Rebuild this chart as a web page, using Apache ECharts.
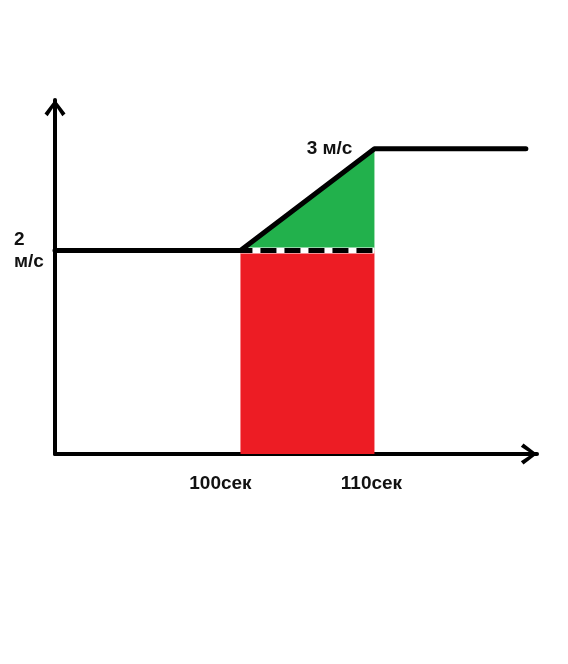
<!DOCTYPE html>
<html>
<head>
<meta charset="utf-8">
<script src="https://cdn.jsdelivr.net/npm/echarts@6/dist/echarts.min.js"></script>
<style>
  html, body { margin: 0; padding: 0; background: #fff; }
  #chart { width: 568px; height: 664px; }
</style>
</head>
<body>
<div id="chart"></div>
<script>
// speed vs time
const timeSec = [86.16, 100, 110, 121.3]
const speed = [2, 2, 3, 3]
const xTicks = [100, 110]
const yTicks = [2]
const xUnit = 'сек'
const yUnit = 'м/с'
const peakLabel = '3 м/с'

const FONT = "'Liberation Sans', Arial, sans-serif"
const TEXT = '#111'
const chevron = 'path://M10,0 L20,13 L17,15.5 L10,5 L3,15.5 L0,13 Z'

const mainLine = timeSec.map((t, i) => [t, speed[i]])
const baseLine = [[timeSec[1], speed[1]], [timeSec[2], speed[1]]]
const ramp = [[timeSec[1], speed[1]], [timeSec[2], speed[2]]]

const chart = echarts.init(document.getElementById('chart'))
chart.setOption({
  animation: false,
  backgroundColor: '#fff',
  grid: { left: 55, right: 31, top: 100, bottom: 210 },
  xAxis: {
    type: 'value',
    min: 86.16,
    max: 122.13,
    splitLine: { show: false },
    axisTick: { show: false },
    axisLine: {
      lineStyle: { color: '#000', width: 4 },
      symbol: ['none', chevron],
      symbolSize: [21, 17],
      symbolOffset: [0, -8]
    },
    axisLabel: {
      customValues: xTicks,
      margin: 20,
      color: TEXT,
      fontFamily: FONT,
      fontWeight: 'bold',
      fontSize: 19,
      formatter: function(v) {
        return v === xTicks[0] ? '{a|' + v + xUnit + '}' : '{b|' + v + xUnit + '}'
      },
      rich: {
        a: { fontFamily: FONT, fontWeight: 'bold', fontSize: 19, color: TEXT, padding: [0, 40, 0, 0] },
        b: { fontFamily: FONT, fontWeight: 'bold', fontSize: 19, color: TEXT, padding: [0, 6, 0, 0] }
      }
    }
  },
  yAxis: {
    type: 'value',
    min: 0,
    max: 3.48,
    splitLine: { show: false },
    axisTick: { show: false },
    axisLine: {
      show: true,
      lineStyle: { color: '#000', width: 4 },
      symbol: ['none', chevron],
      symbolSize: [21, 17],
      symbolOffset: [0, -8]
    },
    axisLabel: {
      customValues: yTicks,
      margin: 41,
      align: 'left',
      lineHeight: 22,
      color: TEXT,
      fontFamily: FONT,
      fontWeight: 'bold',
      fontSize: 19,
      formatter: v => v + '\n' + yUnit
    }
  },
  series: [
    {
      // red rectangle under 2 m/s
      type: 'line',
      data: baseLine,
      showSymbol: false,
      lineStyle: { width: 0 },
      areaStyle: { color: '#ED1C24', opacity: 1, origin: 0 },
      z: 1
    },
    {
      // green triangle of acceleration
      type: 'line',
      data: ramp,
      showSymbol: false,
      lineStyle: { width: 0 },
      areaStyle: { color: '#22B14C', opacity: 1, origin: speed[1] },
      z: 2
    },
    {
      type: 'line',
      data: baseLine,
      showSymbol: false,
      lineStyle: { color: '#fff', width: 6 },
      z: 3
    },
    {
      type: 'line',
      data: baseLine,
      showSymbol: false,
      lineStyle: { color: '#000', width: 5, type: [16, 8], dashOffset: 4 },
      z: 4
    },
    {
      type: 'line',
      data: mainLine,
      showSymbol: false,
      lineStyle: { color: '#000', width: 5, cap: 'round', join: 'round' },
      z: 5
    },
    {
      type: 'scatter',
      data: [[timeSec[2], speed[2]]],
      symbolSize: 0.1,
      itemStyle: { color: '#000', opacity: 1 },
      label: {
        show: true,
        position: 'left',
        distance: 22,
        formatter: peakLabel,
        color: TEXT,
        opacity: 1,
        fontFamily: FONT,
        fontWeight: 'bold',
        fontSize: 19
      },
      z: 6
    }
  ]
})
</script>
</body>
</html>
